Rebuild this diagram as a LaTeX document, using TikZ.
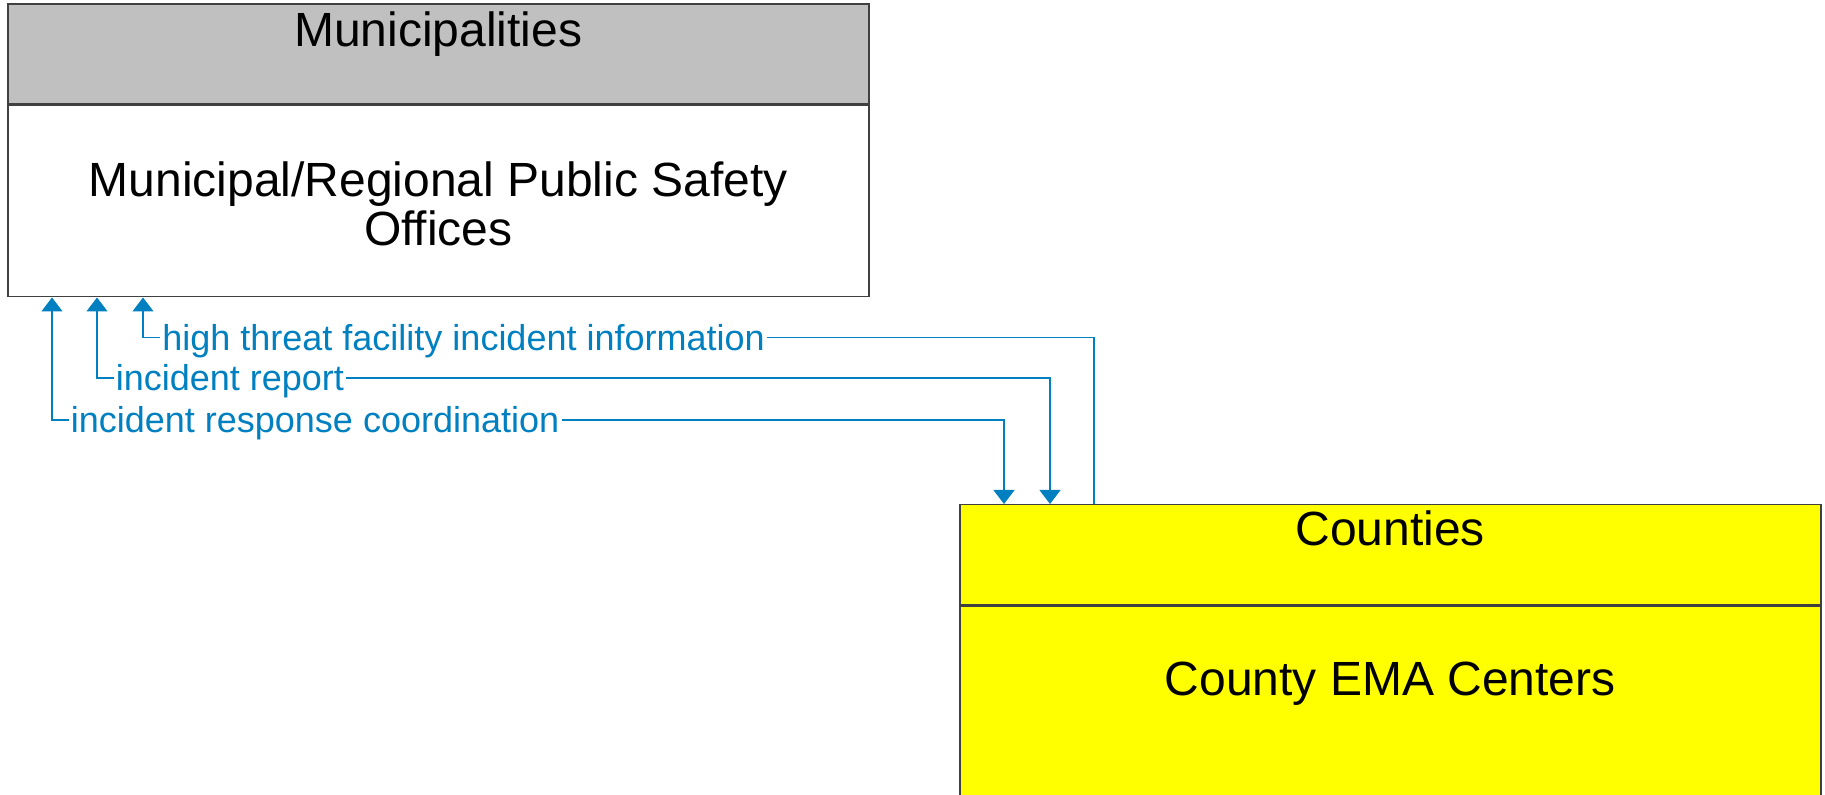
\documentclass[tikz,border=0pt]{standalone}
\usepackage{fontspec}
\setmainfont{Liberation Sans}
\usetikzlibrary{positioning, arrows.meta, calc}

\definecolor{flowblue}{RGB}{0,128,192}
\definecolor{headgray}{RGB}{192,192,192}
\definecolor{countyyellow}{RGB}{255,255,0}

\begin{document}
\begin{tikzpicture}[x=0.5pt, y=-0.5pt, >={Triangle[width=10.5pt,length=7pt]},
    head/.style={draw=black!75, line width=0.75pt, anchor=north west,
                 minimum width=430.5pt, minimum height=50pt, inner sep=0pt},
    body/.style={head, minimum height=95.5pt},
    title/.style={anchor=base, font=\fontsize{24}{24.5}\selectfont},
    bodytext/.style={align=center, font=\fontsize{24}{24.5}\selectfont},
    flow/.style={draw=flowblue, line width=0.6pt},
    flowlabel/.style={anchor=west, text=flowblue, font=\fontsize{18}{18}\selectfont,
                      text height=12.9pt, text depth=0pt, inner xsep=1pt, inner ysep=0pt}]
    \useasboundingbox (0,0) rectangle (1825,795);
    % upper element
    \node[head, fill=headgray] (muniHead) at (7,3.5) {};
    \node[body, fill=white] (muniBody) at (muniHead.south west) {};
    \node[title] (muniTitle) at ([yshift=-21.5pt]muniHead.north) {Municipalities};
    \node[bodytext] (muniText) at ([yshift=-1.5pt]muniBody.center) {Municipal/Regional Public Safety\\Offices};
    % lower element
    \node[head, fill=countyyellow] (countyHead) at (959,504) {};
    \node[body, fill=countyyellow, minimum height=98pt] (countyBody) at (countyHead.south west) {};
    \node[title] (countyTitle) at ([yshift=-21pt]countyHead.north) {Counties};
    \node[bodytext] (countyText) at ([yshift=-39pt]countyHead.south) {County EMA Centers};
    % connector ends
    \coordinate (mIn1) at ([xshift=22.5pt]muniBody.south west);
    \coordinate (mIn2) at ([xshift=45pt]muniBody.south west);
    \coordinate (mIn3) at ([xshift=68pt]muniBody.south west);
    \coordinate (cIn1) at ([xshift=22.5pt]countyHead.north west);
    \coordinate (cIn2) at ([xshift=45.5pt]countyHead.north west);
    \coordinate (cOut3) at ([xshift=67.5pt]countyHead.north west);
    % flows
    \node[flowlabel] (lblThreat) at (160,337.5) {high threat facility incident information};
    \node[flowlabel] (lblReport) at (113.5,378) {incident report};
    \node[flowlabel] (lblResp) at (68.5,420) {incident response coordination};
    \draw[flow] (cOut3) |- (lblThreat.east);
    \draw[flow, ->] (lblThreat.west) -| (mIn3);
    \draw[flow, ->] (lblReport.west) -| (mIn2);
    \draw[flow, ->] (lblReport.east) -| (cIn2);
    \draw[flow, ->] (lblResp.west) -| (mIn1);
    \draw[flow, ->] (lblResp.east) -| (cIn1);
\end{tikzpicture}
\end{document}
